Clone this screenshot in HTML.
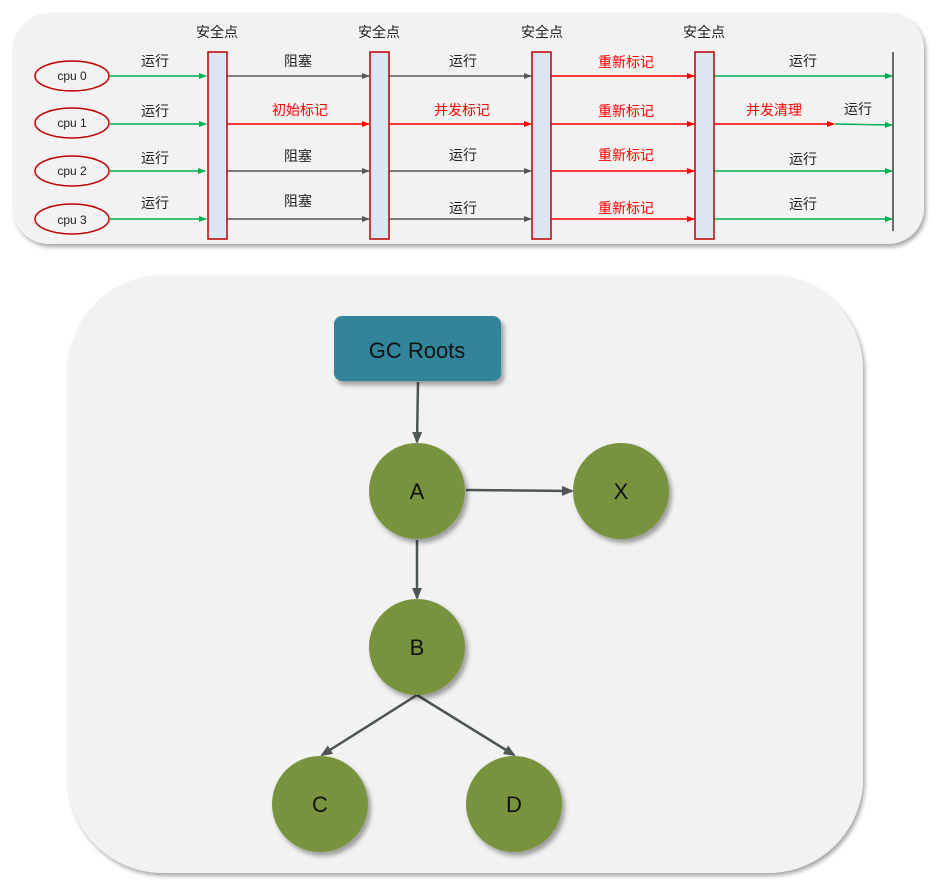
<!DOCTYPE html>
<html><head><meta charset="utf-8"><style>
html,body{margin:0;padding:0;background:#fff;}
svg{display:block;}
text{font-family:"Liberation Sans","Noto Sans CJK SC",sans-serif;}
</style></head><body>
<svg width="937" height="883" viewBox="0 0 937 883" xmlns="http://www.w3.org/2000/svg">
<defs>
<filter id="sh" x="-10%" y="-10%" width="130%" height="130%"><feDropShadow dx="2" dy="3" stdDeviation="2" flood-color="#000" flood-opacity="0.35"/></filter>
<filter id="sh2" x="-20%" y="-20%" width="150%" height="150%"><feDropShadow dx="3" dy="4" stdDeviation="2.5" flood-color="#000" flood-opacity="0.35"/></filter>
<marker id="ag" markerWidth="8" markerHeight="6" refX="7" refY="3" orient="auto" markerUnits="userSpaceOnUse"><path d="M0,0 L8,3 L0,6z" fill="#00b050"/></marker>
<marker id="ak" markerWidth="8" markerHeight="6" refX="7" refY="3" orient="auto" markerUnits="userSpaceOnUse"><path d="M0,0 L8,3 L0,6z" fill="#595959"/></marker>
<marker id="ar" markerWidth="8" markerHeight="6" refX="7" refY="3" orient="auto" markerUnits="userSpaceOnUse"><path d="M0,0 L8,3 L0,6z" fill="#ff0000"/></marker>
<marker id="ad" markerWidth="12" markerHeight="10" refX="10" refY="5" orient="auto" markerUnits="userSpaceOnUse"><path d="M0,0 L12,5 L0,10z" fill="#4d5555"/></marker>
</defs>

<!-- panel 1 -->
<rect x="13" y="13" width="911" height="231" rx="36" fill="#f2f2f2" filter="url(#sh)"/>

<g font-size="14" text-anchor="middle" fill="#222">
<text x="217" y="37">安全点</text><text x="379" y="37">安全点</text><text x="542" y="37">安全点</text><text x="704" y="37">安全点</text>
</g>

<!-- cpu ellipses -->
<g fill="none" stroke="#c00000" stroke-width="1.5">
<ellipse cx="72" cy="76" rx="37" ry="15"/><ellipse cx="72" cy="123" rx="37" ry="15"/>
<ellipse cx="72" cy="171" rx="37" ry="15"/><ellipse cx="72" cy="219" rx="37" ry="15"/>
</g>
<g font-size="12" text-anchor="middle" fill="#222">
<text x="72" y="80">cpu 0</text><text x="72" y="127">cpu 1</text><text x="72" y="175">cpu 2</text><text x="72" y="224">cpu 3</text>
</g>

<!-- lines -->
<g stroke-width="1.5">
<line x1="110" y1="76" x2="206" y2="76" stroke="#00b050" marker-end="url(#ag)"/>
<line x1="110" y1="124" x2="206" y2="124" stroke="#00b050" marker-end="url(#ag)"/>
<line x1="110" y1="171" x2="205" y2="171" stroke="#00b050" marker-end="url(#ag)"/>
<line x1="110" y1="219" x2="206" y2="219" stroke="#00b050" marker-end="url(#ag)"/>

<line x1="227" y1="76" x2="369" y2="76" stroke="#595959" marker-end="url(#ak)"/>
<line x1="227" y1="124" x2="369" y2="124" stroke="#ff0000" marker-end="url(#ar)"/>
<line x1="227" y1="171" x2="369" y2="171" stroke="#595959" marker-end="url(#ak)"/>
<line x1="227" y1="219" x2="369" y2="219" stroke="#595959" marker-end="url(#ak)"/>

<line x1="389" y1="76" x2="531" y2="76" stroke="#595959" marker-end="url(#ak)"/>
<line x1="389" y1="124" x2="531" y2="124" stroke="#ff0000" marker-end="url(#ar)"/>
<line x1="389" y1="171" x2="531" y2="171" stroke="#595959" marker-end="url(#ak)"/>
<line x1="389" y1="219" x2="531" y2="219" stroke="#595959" marker-end="url(#ak)"/>

<line x1="551" y1="76" x2="694" y2="76" stroke="#ff0000" marker-end="url(#ar)"/>
<line x1="551" y1="124" x2="694" y2="124" stroke="#ff0000" marker-end="url(#ar)"/>
<line x1="551" y1="171" x2="694" y2="171" stroke="#ff0000" marker-end="url(#ar)"/>
<line x1="551" y1="219" x2="694" y2="219" stroke="#ff0000" marker-end="url(#ar)"/>

<line x1="714" y1="76" x2="892" y2="76" stroke="#00b050" marker-end="url(#ag)"/>
<line x1="714" y1="124" x2="834" y2="124" stroke="#ff0000" marker-end="url(#ar)"/>
<line x1="835" y1="124" x2="892" y2="125" stroke="#00b050" marker-end="url(#ag)"/>
<line x1="714" y1="171" x2="892" y2="171" stroke="#00b050" marker-end="url(#ag)"/>
<line x1="714" y1="219" x2="892" y2="219" stroke="#00b050" marker-end="url(#ag)"/>
</g>
<line x1="893" y1="52" x2="893" y2="231" stroke="#404040" stroke-width="1.5"/>

<!-- safepoint bars -->
<g fill="#dce6f2" stroke="#c00000" stroke-width="1.5">
<rect x="208" y="52" width="19" height="187"/><rect x="370" y="52" width="19" height="187"/>
<rect x="532" y="52" width="19" height="187"/><rect x="695" y="52" width="19" height="187"/>
</g>

<!-- labels -->
<g font-size="14" text-anchor="middle" fill="#222">
<text x="155" y="66">运行</text><text x="155" y="116">运行</text><text x="155" y="163">运行</text><text x="155" y="208">运行</text>
<text x="298" y="66">阻塞</text><text x="298" y="161">阻塞</text><text x="298" y="206">阻塞</text>
<text x="463" y="66">运行</text><text x="463" y="160">运行</text><text x="463" y="213">运行</text>
<text x="803" y="66">运行</text><text x="858" y="114">运行</text><text x="803" y="164">运行</text><text x="803" y="209">运行</text>
</g>
<g font-size="14" text-anchor="middle" fill="#ff0000">
<text x="300" y="115">初始标记</text><text x="462" y="115">并发标记</text>
<text x="626" y="67">重新标记</text><text x="626" y="116">重新标记</text><text x="626" y="160">重新标记</text><text x="626" y="213">重新标记</text>
<text x="774" y="115">并发清理</text>
</g>

<!-- panel 2 -->
<rect x="68" y="275" width="795" height="598" rx="95" fill="#f2f2f2" filter="url(#sh)"/>

<g stroke="#4d5555" stroke-width="2.5" fill="none">
<line x1="418" y1="382" x2="417" y2="442" marker-end="url(#ad)"/>
<line x1="466" y1="490" x2="572" y2="491" marker-end="url(#ad)"/>
<line x1="417" y1="540" x2="417" y2="598" marker-end="url(#ad)"/>
<line x1="417" y1="695" x2="322" y2="755" marker-end="url(#ad)"/>
<line x1="417" y1="695" x2="514" y2="755" marker-end="url(#ad)"/>
</g>

<rect x="334" y="316" width="167" height="65" rx="8" fill="#31849b" filter="url(#sh2)"/>
<text x="417" y="358" font-size="22" text-anchor="middle" fill="#111">GC  Roots</text>

<g fill="#77933c" filter="url(#sh2)">
<circle cx="417" cy="491" r="48"/><circle cx="621" cy="491" r="48"/>
<circle cx="417" cy="647" r="48"/><circle cx="320" cy="804" r="48"/><circle cx="514" cy="804" r="48"/>
</g>
<g font-size="22" text-anchor="middle" fill="#111">
<text x="417" y="499">A</text><text x="621" y="499">X</text><text x="417" y="655">B</text>
<text x="320" y="812">C</text><text x="514" y="812">D</text>
</g>
</svg>
</body></html>
